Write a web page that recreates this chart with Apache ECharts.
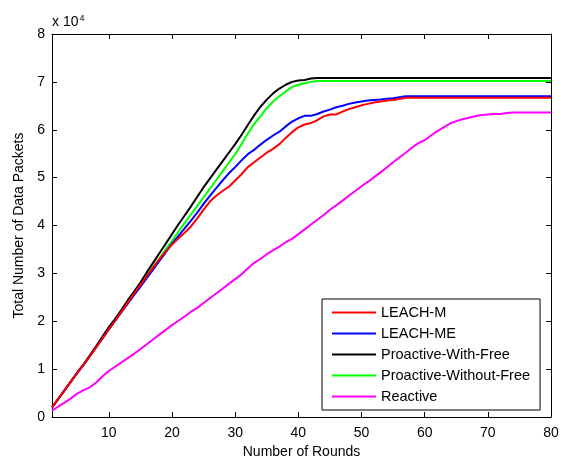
<!DOCTYPE html>
<html>
<head>
<meta charset="utf-8">
<script src="https://cdn.jsdelivr.net/npm/echarts@6/dist/echarts.min.js"></script>
<style>
  html, body { margin: 0; padding: 0; background: #fff; }
  #chart { width: 564px; height: 456px; }
</style>
</head>
<body>
<div id="chart"></div>
<script>
// Total data packets delivered per round (units of 10^4 packets), rounds 1..80
const rounds = [
  1, 2, 3, 4, 5, 6, 7, 8, 9, 10, 11, 12, 13, 14, 15, 16, 17, 18, 19, 20,
  21, 22, 23, 24, 25, 26, 27, 28, 29, 30, 31, 32, 33, 34, 35, 36, 37, 38, 39, 40,
  41, 42, 43, 44, 45, 46, 47, 48, 49, 50, 51, 52, 53, 54, 55, 56, 57, 58, 59, 60,
  61, 62, 63, 64, 65, 66, 67, 68, 69, 70, 71, 72, 73, 74, 75, 76, 77, 78, 79, 80
];

const leachM = [
  0.20, 0.38, 0.56, 0.74, 0.92, 1.09, 1.27, 1.46, 1.64, 1.83,
  2.01, 2.20, 2.39, 2.58, 2.76, 2.94, 3.12, 3.30, 3.46, 3.60,
  3.73, 3.85, 3.98, 4.15, 4.33, 4.50, 4.62, 4.72, 4.81, 4.94,
  5.07, 5.22, 5.32, 5.42, 5.52, 5.60, 5.70, 5.83, 5.95, 6.05,
  6.11, 6.14, 6.20, 6.28, 6.32, 6.32, 6.38, 6.43, 6.47, 6.51,
  6.54, 6.57, 6.59, 6.61, 6.62, 6.64, 6.67, 6.67, 6.67, 6.67,
  6.67, 6.67, 6.67, 6.67, 6.67, 6.67, 6.67, 6.67, 6.67, 6.67,
  6.67, 6.67, 6.67, 6.67, 6.67, 6.67, 6.67, 6.67, 6.67, 6.67
];

const leachME = [
  0.20, 0.38, 0.56, 0.74, 0.92, 1.09, 1.27, 1.46, 1.64, 1.83,
  2.01, 2.19, 2.37, 2.55, 2.72, 2.90, 3.08, 3.26, 3.44, 3.62,
  3.78, 3.94, 4.10, 4.27, 4.45, 4.62, 4.78, 4.94, 5.09, 5.22,
  5.36, 5.49, 5.58, 5.69, 5.79, 5.88, 5.96, 6.07, 6.17, 6.24,
  6.29, 6.29, 6.33, 6.38, 6.42, 6.47, 6.50, 6.54, 6.57, 6.59,
  6.61, 6.62, 6.63, 6.65, 6.66, 6.68, 6.70, 6.70, 6.70, 6.70,
  6.70, 6.70, 6.70, 6.70, 6.70, 6.70, 6.70, 6.70, 6.70, 6.70,
  6.70, 6.70, 6.70, 6.70, 6.70, 6.70, 6.70, 6.70, 6.70, 6.70
];

const proactiveWithFree = [
  0.20, 0.38, 0.56, 0.75, 0.93, 1.10, 1.29, 1.48, 1.68, 1.88,
  2.05, 2.24, 2.44, 2.62, 2.81, 3.02, 3.22, 3.42, 3.62, 3.82,
  4.02, 4.21, 4.40, 4.60, 4.80, 4.98, 5.16, 5.34, 5.52, 5.70,
  5.89, 6.10, 6.30, 6.48, 6.63, 6.76, 6.86, 6.94, 7.00, 7.03,
  7.04, 7.07, 7.08, 7.08, 7.08, 7.08, 7.08, 7.08, 7.08, 7.08,
  7.08, 7.08, 7.08, 7.08, 7.08, 7.08, 7.08, 7.08, 7.08, 7.08,
  7.08, 7.08, 7.08, 7.08, 7.08, 7.08, 7.08, 7.08, 7.08, 7.08,
  7.08, 7.08, 7.08, 7.08, 7.08, 7.08, 7.08, 7.08, 7.08, 7.08
];

const proactiveWithoutFree = [
  0.20, 0.38, 0.56, 0.74, 0.92, 1.10, 1.28, 1.47, 1.66, 1.85,
  2.03, 2.22, 2.41, 2.59, 2.76, 2.95, 3.13, 3.31, 3.50, 3.68,
  3.87, 4.05, 4.23, 4.41, 4.59, 4.77, 4.95, 5.13, 5.31, 5.49,
  5.70, 5.92, 6.12, 6.28, 6.45, 6.59, 6.70, 6.80, 6.89, 6.94,
  6.97, 7.00, 7.02, 7.02, 7.02, 7.02, 7.02, 7.02, 7.02, 7.02,
  7.02, 7.02, 7.02, 7.02, 7.02, 7.02, 7.02, 7.02, 7.02, 7.02,
  7.02, 7.02, 7.02, 7.02, 7.02, 7.02, 7.02, 7.02, 7.02, 7.02,
  7.02, 7.02, 7.02, 7.02, 7.02, 7.02, 7.02, 7.02, 7.02, 7.02
];

const reactive = [
  0.13, 0.22, 0.30, 0.39, 0.49, 0.56, 0.62, 0.72, 0.85, 0.96,
  1.05, 1.14, 1.23, 1.32, 1.42, 1.52, 1.62, 1.72, 1.82, 1.92,
  2.01, 2.10, 2.20, 2.28, 2.38, 2.48, 2.58, 2.68, 2.78, 2.88,
  2.98, 3.10, 3.22, 3.30, 3.40, 3.48, 3.56, 3.65, 3.72, 3.82,
  3.92, 4.02, 4.12, 4.22, 4.33, 4.42, 4.52, 4.62, 4.72, 4.82,
  4.91, 5.01, 5.11, 5.21, 5.32, 5.42, 5.52, 5.63, 5.72, 5.78,
  5.88, 5.97, 6.05, 6.13, 6.18, 6.22, 6.25, 6.28, 6.31, 6.32,
  6.33, 6.33, 6.35, 6.36, 6.36, 6.36, 6.36, 6.36, 6.36, 6.36
];

const xTickValues = [10, 20, 30, 40, 50, 60, 70, 80];
const yTickValues = [0, 1, 2, 3, 4, 5, 6, 7, 8];

const seriesNames = ['LEACH-M', 'LEACH-ME', 'Proactive-With-Free', 'Proactive-Without-Free', 'Reactive'];
const seriesColors = ['#ff0000', '#0000ff', '#000000', '#00ff00', '#ff00ff'];
const seriesValues = [leachM, leachME, proactiveWithFree, proactiveWithoutFree, reactive];

const FONT = '"Liberation Sans", Arial, Helvetica, sans-serif';
const AXIS_COLOR = '#000';
// plain line sample for the legend keys (aspect kept, so it stays thin)
const LINE_ICON = 'path://M0,0 H44 V2 H0 Z';

const pairs = (vals) => vals.map((v, i) => [rounds[i], v]);

const chart = echarts.init(document.getElementById('chart'), null, { renderer: 'canvas' });

const boxAxisBase = {
  axisLine: { show: true, onZero: false, lineStyle: { color: AXIS_COLOR, width: 1 } },
  axisTick: { show: true, inside: true, length: 5, lineStyle: { color: AXIS_COLOR, width: 1 } },
  splitLine: { show: false }
};

chart.setOption({
  animation: false,
  backgroundColor: '#fff',
  textStyle: { fontFamily: FONT },
  grid: { left: 52, right: 13, top: 34, bottom: 39, containLabel: false, outerBoundsMode: 'none' },
  xAxis: [
    Object.assign({}, boxAxisBase, {
      type: 'value', position: 'bottom', min: 1, max: 80,
      name: 'Number of Rounds', nameLocation: 'middle', nameGap: 25,
      nameTextStyle: { color: '#000', fontSize: 14, fontFamily: FONT },
      axisTick: Object.assign({}, boxAxisBase.axisTick, { customValues: xTickValues }),
      axisLabel: { color: '#000', fontSize: 14, fontFamily: FONT, margin: 9, customValues: xTickValues }
    }),
    Object.assign({}, boxAxisBase, {
      type: 'value', position: 'top', min: 1, max: 80,
      axisTick: Object.assign({}, boxAxisBase.axisTick, { customValues: xTickValues }),
      axisLabel: { show: false }
    })
  ],
  yAxis: [
    Object.assign({}, boxAxisBase, {
      type: 'value', position: 'left', min: 0, max: 8, interval: 1,
      name: 'Total Number of Data Packets', nameLocation: 'middle', nameGap: 20,
      nameTextStyle: { color: '#000', fontSize: 14, fontFamily: FONT },
      axisTick: Object.assign({}, boxAxisBase.axisTick, { customValues: yTickValues }),
      axisLabel: { color: '#000', fontSize: 14, fontFamily: FONT, margin: 7, customValues: yTickValues }
    }),
    Object.assign({}, boxAxisBase, {
      type: 'value', position: 'right', min: 0, max: 8, interval: 1,
      axisLabel: { show: false }
    })
  ],
  legend: {
    orient: 'vertical',
    left: 322, top: 299,
    data: seriesNames.map((name) => ({ name, icon: LINE_ICON })),
    itemWidth: 44, itemHeight: 14, itemGap: 6,
    symbolKeepAspect: true,
    padding: [6, 10, 6, 10],
    backgroundColor: '#fff',
    borderColor: '#000', borderWidth: 1, borderRadius: 0,
    textStyle: { color: '#000', fontSize: 14.5, fontFamily: FONT }
  },
  graphic: [
    {
      type: 'text', left: 52, top: 14,
      style: {
        text: 'x 10{sup|4}',
        rich: { sup: { fontSize: 9, verticalAlign: 'top', padding: [0, 0, 8, 1] } },
        fontSize: 14, fontFamily: FONT, fill: '#000'
      }
    }
  ],
  series: seriesNames.map((name, k) => ({
    name,
    type: 'line',
    xAxisIndex: 0, yAxisIndex: 0,
    data: pairs(seriesValues[k]),
    symbol: 'none',
    showSymbol: false,
    smooth: false,
    color: seriesColors[k],
    lineStyle: { color: seriesColors[k], width: 2 },
    z: 10 - k
  }))
});
</script>
</body>
</html>
